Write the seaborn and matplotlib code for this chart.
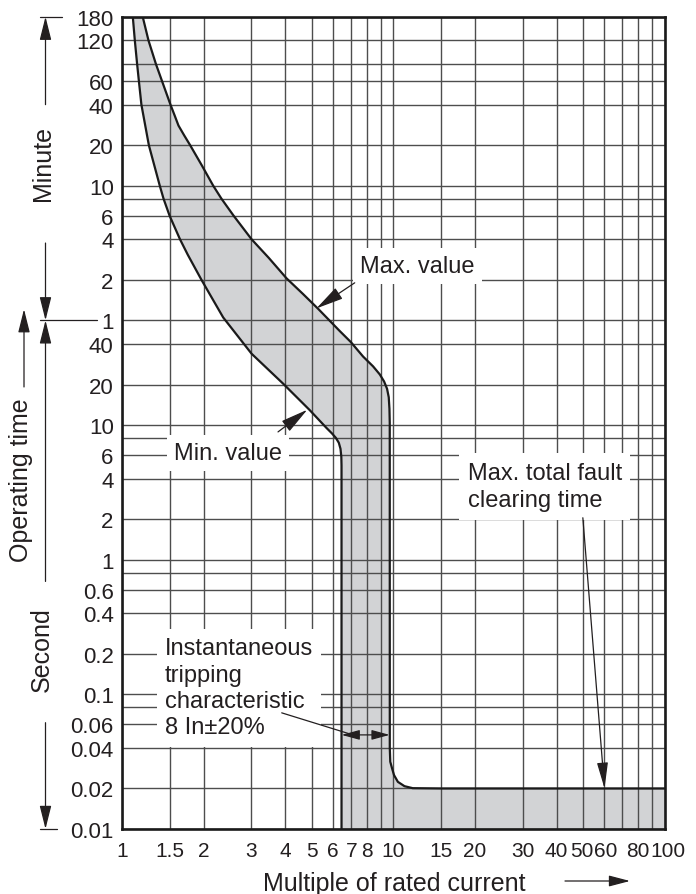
import numpy as np
import pandas as pd
import matplotlib
matplotlib.use("Agg")
import matplotlib.pyplot as plt
import matplotlib.transforms as mtransforms
from matplotlib.ticker import NullFormatter, FixedLocator
import seaborn as sns

# ---------------- data ----------------
# Min. value tripping curve (multiple of In, seconds)
min_x = [1.096, 1.115, 1.137, 1.154, 1.179, 1.256, 1.378, 1.423, 1.497, 1.636,
         1.747, 1.963, 2.361, 3.004, 3.928, 4.925, 5.675, 5.935, 6.14, 6.30,
         6.39, 6.435, 6.446, 6.446]
min_t = [10800, 7200, 4800, 3600, 2400, 1200, 600, 480, 360, 240,
         184.5, 120, 63, 33.9, 20.3, 12.9, 9.52, 8.70, 8.05, 7.39,
         6.67, 5.82, 5.0, 0.01]

# Max. value tripping curve
max_x = [1.192, 1.252, 1.334, 1.404, 1.509, 1.564, 1.615, 1.696, 1.783, 1.968,
         2.169, 2.327, 2.577, 3.004, 3.478, 4.043, 4.642, 5.284, 6.354, 6.975,
         7.741, 8.427, 8.919, 9.250, 9.489, 9.625, 9.683, 9.707, 9.71, 9.75,
         9.90, 10.07, 10.4, 11.0, 11.8, 15, 100]
max_t = [10800, 7200, 4800, 3600, 2400, 1991, 1679, 1417, 1200, 851,
         600, 480, 360, 240, 174.4, 123, 94.4, 73.1, 49.9, 41.4,
         32.3, 27.3, 23.8, 21.1, 18.6, 16.1, 13.2, 10.4, 0.04, 0.0316,
         0.0282, 0.0251, 0.0224, 0.0208, 0.0201, 0.02, 0.02]

# axis ticks
x_ticks = [1, 1.5, 2, 3, 4, 5, 6, 7, 8, 10, 15, 20, 30, 40, 50, 60, 80, 100]
x_tick_labels = ["1", "1.5", "2", "3", "4", "5", "6", "7", "8", "10", "15", "20",
                 "30", "40", "50", "60", "80", "100"]
x_minor = [9, 70, 90]

sec_ticks = [0.01, 0.02, 0.04, 0.06, 0.1, 0.2, 0.4, 0.6, 1, 2, 4, 6, 10, 20, 40]
sec_labels = ["0.01", "0.02", "0.04", "0.06", "0.1", "0.2", "0.4", "0.6", "1", "2",
              "4", "6", "10", "20", "40"]
min_ticks = [1, 2, 4, 6, 10, 20, 40, 60, 120, 180]          # minutes
min_labels = ["1", "2", "4", "6", "10", "20", "40", "60", "120", "180"]
y_minor = [0.08, 0.8, 8, 480, 4800]                          # seconds

# ---------------- style ----------------
sns.set_style("white")
plt.rcParams['font.family'] = ['Liberation Sans', 'DejaVu Sans']
TXT = '#231f20'
GRID = '#4d4d4d'
FILL = '#d2d3d5'

W, H = 696, 895
fig = plt.figure(figsize=(W / 100, H / 100), dpi=100)
L, R, T, B = 122, 664.5, 17.7, 830
ax = fig.add_axes([L / W, 1 - B / H, (R - L) / W, (B - T) / H])
ax.set_xscale('log')
ax.set_yscale('log')

# band between curves
poly_x = min_x + [100] + max_x[::-1]
poly_t = min_t + [0.01] + max_t[::-1]
ax.fill(poly_x, poly_t, color=FILL, lw=0, zorder=0.2)

df_min = pd.DataFrame({"x": min_x, "t": min_t})
df_max = pd.DataFrame({"x": max_x, "t": max_t})
sns.lineplot(data=df_min, x="x", y="t", sort=False, estimator=None,
             color='#1a1a1a', lw=1.6, ax=ax, zorder=2.5)
sns.lineplot(data=df_max, x="x", y="t", sort=False, estimator=None,
             color='#1a1a1a', lw=1.6, ax=ax, zorder=2.5)

ax.set_xlim(1, 100)
ax.set_ylim(0.01, 10800)

ax.set_xticks(x_ticks)
ax.set_xticklabels(x_tick_labels)
ax.xaxis.set_minor_locator(FixedLocator(x_minor))
ax.xaxis.set_minor_formatter(NullFormatter())

y_ticks = sec_ticks + [m * 60 for m in min_ticks]
y_labels = sec_labels + min_labels
ax.set_yticks(y_ticks)
ax.set_yticklabels(y_labels)
ax.yaxis.set_minor_locator(FixedLocator(y_minor))
ax.yaxis.set_minor_formatter(NullFormatter())

ax.set_axisbelow(True)
ax.grid(True, which='both', color=GRID, lw=1.0)
ax.tick_params(which='both', length=0, colors=TXT)
ax.tick_params(axis='x', pad=9, labelsize=15)
ax.tick_params(axis='y', pad=6, labelsize=16)
ax.set_xlabel("")
ax.set_ylabel("")
for s in ax.spines.values():
    s.set_visible(True)
    s.set_color('#1a1a1a')
    s.set_linewidth(1.9)
    s.set_zorder(5)

# small horizontal nudges so the crowded x labels do not collide
nudge = {"50": -1.5, "60": 1.5, "100": 3.5}
for tick in ax.xaxis.get_major_ticks():
    lab = tick.label1
    if lab.get_text() in nudge:
        lab.set_transform(lab.get_transform() + mtransforms.ScaledTranslation(
            nudge[lab.get_text()] / 100, 0, fig.dpi_scale_trans))

box = dict(boxstyle='square,pad=0.3', fc='white', ec='none')
AFS = 17

def arrow(xy, xytext, style='-|>', hl=0.8, hw=0.18):
    st = '-' if style == '-' else f'{style},head_length={hl},head_width={hw}'
    ax.annotate('', xy=xy, xytext=xytext, annotation_clip=False,
                arrowprops=dict(arrowstyle=st, color=TXT, lw=0.9, shrinkA=0,
                                shrinkB=0, mutation_scale=20), zorder=3)

# Max. value
ax.text(12.3, 152, "Max. value", ha='center', va='center', fontsize=AFS,
        color=TXT, bbox=box, zorder=1.5)
arrow((5.21, 73.6), (7.21, 114), hl=0.85, hw=0.2)

# Min. value
ax.text(2.46, 6.24, "Min. value", ha='center', va='center', fontsize=AFS,
        color=TXT, bbox=box, zorder=1.5)
arrow((4.82, 13.0), (3.76, 8.9), hl=0.85, hw=0.2)

# Max. total fault clearing time
ax.text(18.8, 3.5, "Max. total fault\nclearing time", ha='left', va='center',
        fontsize=AFS, color=TXT, linespacing=1.35,
        bbox=dict(boxstyle='square,pad=0.35', fc='white', ec='none'), zorder=1.5)
arrow((60.1, 0.02), (50.0, 2.05), hl=0.8, hw=0.17)

# Instantaneous tripping characteristic
ax.text(1.44, 0.112, "Instantaneous\ntripping\ncharacteristic\n8 In\u00b120%",
        ha='left', va='center', fontsize=AFS, color=TXT, linespacing=1.26,
        bbox=dict(boxstyle='square,pad=0.35', fc='white', ec='none'), zorder=1.5)
arrow((7.1, 0.05), (3.88, 0.0729), style='-')
arrow((6.45, 0.05), (9.7, 0.05), style='<|-|>', hl=0.55, hw=0.15)

# ---------------- left side bracket annotations ----------------
trans = mtransforms.blended_transform_factory(fig.transFigure, ax.transData)
def fx(px):
    return px / W

def fline(x0, x1, t):
    ax.plot([fx(x0), fx(x1)], [t, t], color=TXT, lw=0.9, transform=trans,
            clip_on=False, zorder=3)

def farrow(x, t_from, t_to):
    ax.annotate('', xy=(fx(x), t_to), xytext=(fx(x), t_from), xycoords=trans,
                textcoords=trans, annotation_clip=False,
                arrowprops=dict(arrowstyle='-|>,head_length=0.72,head_width=0.18',
                                color=TXT, lw=0.9, shrinkA=0, shrinkB=0,
                                mutation_scale=20), zorder=3)

fline(40, 62, 10800)
farrow(45.5, 2400, 10800)
farrow(45.5, 225, 60)
fline(40, 97, 60)
farrow(45.5, 0.69, 60)
farrow(45.5, 0.0616, 0.01)
fline(40, 57, 0.01)
ax.text(fx(43), 890, "Minute", rotation=90, ha='center', va='center',
        fontsize=18, color=TXT, transform=trans)
ax.text(fx(42), 0.217, "Second", rotation=90, ha='center', va='center',
        fontsize=18, color=TXT, transform=trans)
ax.text(fx(21), 3.97, "Operating time", rotation=90, ha='center', va='center',
        fontsize=18, color=TXT, transform=trans)
farrow(24, 19.2, 72.6)

# x-axis label with arrow
fig.text(394 / W, 1 - 884 / H, "Multiple of rated current", ha='center',
         va='center', fontsize=18, color=TXT)
ax.annotate('', xy=(630, H - 882), xytext=(565, H - 882), xycoords='figure pixels',
            textcoords='figure pixels', annotation_clip=False,
            arrowprops=dict(arrowstyle='-|>,head_length=0.65,head_width=0.17',
                            color=TXT, lw=0.9, shrinkA=0, shrinkB=0,
                            mutation_scale=20))

fig.savefig("out.png", dpi=100)
